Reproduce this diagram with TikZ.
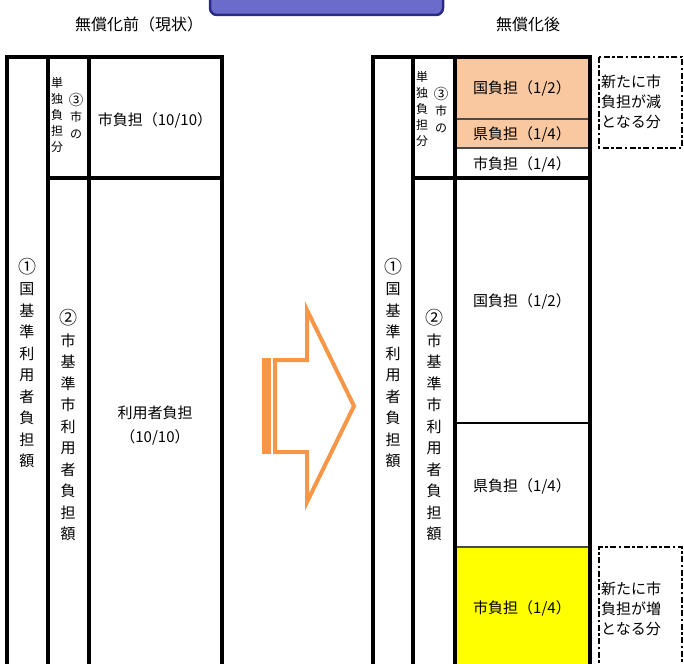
\documentclass[tikz,border=0pt]{standalone}
\usepackage{fontspec}
\setmainfont{Noto Sans CJK JP}
\definecolor{peach}{HTML}{FAC8A0}
\definecolor{arroworange}{HTML}{F79646}
\definecolor{boxblue}{HTML}{6B6BCC}
\definecolor{boxnavy}{HTML}{2B2B85}
\definecolor{thingray}{HTML}{4A4A4A}
\definecolor{cellyellow}{HTML}{FFFF00}
\newcommand{\mybigcirc}[1]{{\fontsize{18}{21.5}\selectfont #1}}
\newcommand{\mymidcirc}[1]{{\fontsize{14.5}{16.2}\selectfont #1}}
\begin{document}
\begin{tikzpicture}[x=1pt,y=-1pt,
  frame/.style={line width=3.2pt, black},
  midline/.style={line width=2.5pt, black},
  thinline/.style={line width=1.8pt, thingray},
  dashbox/.style={line width=2.8pt, black, dash pattern=on 6pt off 2.5pt on 2.5pt off 2.5pt},
  arrowline/.style={line width=4pt, arroworange, line join=miter},
  title/.style={font=\fontsize{16}{19}\selectfont, inner sep=0pt},
  cell/.style={font=\fontsize{15}{18}\selectfont, inner sep=0pt},
  vert/.style={font=\fontsize{15}{21.5}\selectfont, align=center, inner sep=0pt},
  small/.style={font=\fontsize{12}{16.2}\selectfont, align=center, inner sep=0pt},
  note/.style={font=\fontsize{15}{20}\selectfont, align=left, inner sep=0pt, anchor=west}]
\useasboundingbox (0,0) rectangle (684,663);

% top blue box
\draw[line width=2.5pt, boxnavy, fill=boxblue, rounded corners=7pt] (210,-20) rectangle (443,15);

% titles
\node[title] (t1) at (139,24) {無償化前（現状）};
\node[title] (t2) at (528,24) {無償化後};

% fills (right table)
\fill[peach] (455,57) rectangle (590,148);
\fill[cellyellow] (455,547) rectangle (590,670);
\draw[thinline] (455,119) -- (590,119);
\draw[thinline] (455,148) -- (590,148);
\draw[thinline] (455,547) -- (590,547);
\draw[midline] (455,423) -- (590,423);

% left table frame
\draw[frame] (7,670) -- (7,57) -- (222,57) -- (222,670);
\draw[frame] (48,57) -- (48,670);
\draw[frame] (89,57) -- (89,670);
\draw[frame] (48,178) -- (222,178);

% right table frame
\draw[frame] (373,670) -- (373,57) -- (590,57) -- (590,670);
\draw[frame] (413,57) -- (413,670);
\draw[frame] (455,57) -- (455,670);
\draw[frame] (413,178) -- (590,178);

% dashed boxes
\draw[dashbox] (599,57) rectangle (682,148);
\draw[dashbox] (682,670) -- (682,547) -- (599,547) -- (599,670);

% arrow
\fill[arroworange] (261.5,358) rectangle (270.5,454);
\draw[arrowline] (275,360) -- (307,360) -- (307,310) -- (354,406) -- (307,502) -- (307,452) -- (275,452) -- cycle;

% left texts
\node[small] (ls1) at (57,115) {単\\独\\負\\担\\分};
\node[small] (ls2) at (76,116) {\mymidcirc{③}\\市\\の};
\node[cell] (lc1) at (155,120) {市負担（10/10）};
\node[vert] (lv1) at (27,363) {\mybigcirc{①}\\国\\基\\準\\利\\用\\者\\負\\担\\額};
\node[vert] (lv2) at (68,425) {\mybigcirc{②}\\市\\基\\準\\市\\利\\用\\者\\負\\担\\額};
\node[cell] (lc2) at (155,413) {利用者負担};
\node[cell] (lc3) at (155,437) {（10/10）};

% right texts
\node[small] (rs1) at (422,109) {単\\独\\負\\担\\分};
\node[small] (rs2) at (441,110) {\mymidcirc{③}\\市\\の};
\node[cell] (rc1) at (522,88) {国負担（1/2）};
\node[cell] (rc2) at (522,134) {県負担（1/4）};
\node[cell] (rc3) at (522,164) {市負担（1/4）};
\node[vert] (rv1) at (393,363) {\mybigcirc{①}\\国\\基\\準\\利\\用\\者\\負\\担\\額};
\node[vert] (rv2) at (434,425) {\mybigcirc{②}\\市\\基\\準\\市\\利\\用\\者\\負\\担\\額};
\node[cell] (rc4) at (522,301) {国負担（1/2）};
\node[cell] (rc5) at (522,486) {県負担（1/4）};
\node[cell] (rc6) at (522,608) {市負担（1/4）};

% notes
\node[note] (n1) at (601,102) {新たに市\\負担が減\\となる分};
\node[note] (n2) at (601,609) {新たに市\\負担が増\\となる分};
\end{tikzpicture}
\end{document}
